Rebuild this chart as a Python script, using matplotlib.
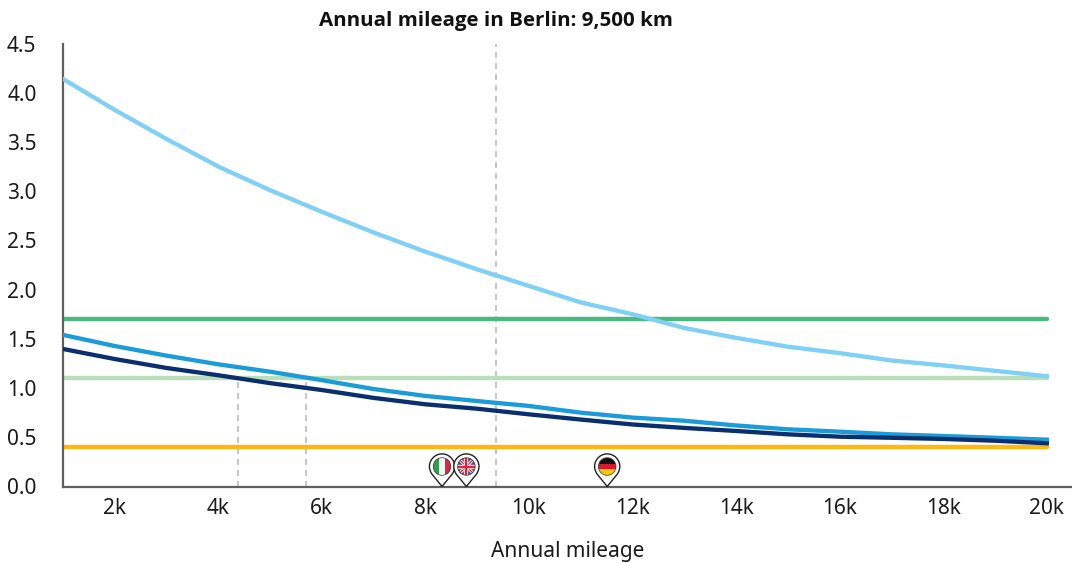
#!/usr/bin/env python3
"""Annual mileage chart with break-even curves and country pins."""

import matplotlib
matplotlib.use("Agg")
import matplotlib.pyplot as plt
from matplotlib.patches import Circle, PathPatch, Rectangle
from matplotlib.path import Path
from matplotlib.transforms import IdentityTransform, ScaledTranslation

plt.rcParams["font.family"] = ["Noto Sans", "DejaVu Sans"]

W, H = 1072, 563

mileage = list(range(1, 21))
light_blue = [4.14, 3.825, 3.53, 3.25, 3.01, 2.79, 2.58, 2.385, 2.206, 2.037,
              1.87, 1.75, 1.61, 1.51, 1.42, 1.355, 1.28, 1.23, 1.175, 1.12]
mid_blue = [1.54, 1.427, 1.329, 1.241, 1.166, 1.08, 0.99, 0.92, 0.868, 0.818,
            0.75, 0.70, 0.668, 0.62, 0.581, 0.557, 0.53, 0.513, 0.495, 0.476]
navy = [1.397, 1.295, 1.204, 1.13, 1.05, 0.98, 0.90, 0.835, 0.79, 0.733,
        0.68, 0.63, 0.595, 0.564, 0.53, 0.506, 0.495, 0.483, 0.465, 0.439]

flat_levels = [1.70, 1.10, 0.40]
flat_colors = ["#4cb782", "#b9dfb9", "#fdb813"]

guide_x = [4.375, 5.69, 9.36]
guide_top = [1.10, 1.10, 4.5]

pin_x = [8.32, 8.79, 11.51]
pin_flags = ["it", "uk", "de"]

x_ticks = list(range(2, 21, 2))
x_labels = [f"{v}k" for v in x_ticks]
y_ticks = [0.0, 0.5, 1.0, 1.5, 2.0, 2.5, 3.0, 3.5, 4.0, 4.5]


def draw_pin(ax, x, flag):
    # pin shapes are in pixels, anchored on the tip at (x, 0)
    tr = IdentityTransform() + ScaledTranslation(x, 0, ax.transData)
    cy, r, fr = 20.0, 12.6, 8.8
    k = 0.5523
    verts = [(0, 0), (-9.8, 12), (-11.5, 14.3), (-r, 17), (-r, cy),
             (-r, cy + k * r), (-k * r, cy + r), (0, cy + r),
             (k * r, cy + r), (r, cy + k * r), (r, cy),
             (r, 17), (11.5, 14.3), (9.8, 12), (0, 0)]
    codes = [Path.MOVETO, Path.LINETO] + [Path.CURVE4] * 12 + [Path.LINETO]
    ax.add_patch(PathPatch(Path(verts, codes), fc="white", ec="#222222", lw=1.0,
                           transform=tr, zorder=6, clip_on=False))
    clip = Circle((0, cy), fr, transform=tr)
    if flag == "it":
        bands = [(-fr, "#2f9e4f"), (-fr / 3, "#f4f4f4"), (fr / 3, "#d7263d")]
        for x0, c in bands:
            p = Rectangle((x0, cy - fr), 2 * fr / 3, 2 * fr, fc=c, lw=0, transform=tr, zorder=7)
            ax.add_patch(p)
            p.set_clip_path(clip)
    elif flag == "de":
        bands = [(fr / 3, "#111111"), (-fr / 3, "#d7192d"), (-fr, "#f7c600")]
        for y0, c in bands:
            p = Rectangle((-fr, cy + y0), 2 * fr, 2 * fr / 3, fc=c, lw=0, transform=tr, zorder=7)
            ax.add_patch(p)
            p.set_clip_path(clip)
    else:
        p = Rectangle((-fr, cy - fr), 2 * fr, 2 * fr, fc="#3b4f8f", lw=0, transform=tr, zorder=7)
        ax.add_patch(p)
        p.set_clip_path(clip)
        for (a, b, w, c) in [
            ((-fr, cy - fr), (fr, cy + fr), 3.0, "#f2f2f2"),
            ((-fr, cy + fr), (fr, cy - fr), 3.0, "#f2f2f2"),
            ((-fr, cy - fr), (fr, cy + fr), 1.2, "#d7263d"),
            ((-fr, cy + fr), (fr, cy - fr), 1.2, "#d7263d"),
            ((-fr, cy), (fr, cy), 4.4, "#f2f2f2"),
            ((0, cy - fr), (0, cy + fr), 4.4, "#f2f2f2"),
            ((-fr, cy), (fr, cy), 2.4, "#d7263d"),
            ((0, cy - fr), (0, cy + fr), 2.4, "#d7263d"),
        ]:
            ln, = ax.plot([a[0], b[0]], [a[1], b[1]], color=c, lw=w * 0.72,
                          transform=tr, zorder=8, solid_capstyle="butt")
            ln.set_clip_path(clip)
    ring = Circle((0, cy), fr, fc="none", ec="#333333", lw=0.5, transform=tr, zorder=9)
    ax.add_patch(ring)


def main():
    fig = plt.figure(figsize=(W / 100, H / 100), dpi=100)
    left, right, bottom, top = 63, 1072, 563 - 486.5, 563 - 43.5
    ax = fig.add_axes([left / W, bottom / H, (right - left) / W, (top - bottom) / H])

    x_per_k = 51.78
    ax.set_xlim(1.0, 1.0 + (right - left) / x_per_k)
    ax.set_ylim(0, 4.5)

    for x, y_top in zip(guide_x, guide_top):
        ax.plot([x, x], [0, y_top], color="#b8b8b2", lw=1.1, dashes=(4, 3.2), zorder=1)

    for level, color in zip(flat_levels, flat_colors):
        ax.plot([1, 20], [level, level], color=color, lw=3.2, solid_capstyle="round", zorder=2)

    ax.plot(mileage, light_blue, color="#7fd0f5", lw=3.1, zorder=3)
    ax.plot(mileage, mid_blue, color="#1b9cd8", lw=3.1, zorder=4)
    ax.plot(mileage, navy, color="#0a2f6e", lw=3.1, zorder=5)

    for x, flag in zip(pin_x, pin_flags):
        draw_pin(ax, x, flag)

    ax.set_xticks(x_ticks, x_labels)
    ax.set_yticks(y_ticks, [f"{v:.1f}" for v in y_ticks])
    ax.tick_params(length=0, labelsize=15, labelcolor="#1a1a1a")
    ax.tick_params(axis="x", pad=8.5)
    ax.tick_params(axis="y", pad=19)

    for side in ("top", "right"):
        ax.spines[side].set_visible(False)
    for side in ("left", "bottom"):
        ax.spines[side].set_color("#5f5f5f")
        ax.spines[side].set_linewidth(1.6)

    fig.text(496 / W, 1 - 21 / H, "Annual mileage in Berlin: 9,500 km", ha="center", va="center",
             fontsize=14.75, fontweight="bold", family=["Open Sans", "DejaVu Sans"], color="#111111")
    fig.text(568 / W, 1 - 551 / H, "Annual mileage", ha="center", va="center",
             fontsize=15, color="#1a1a1a")

    fig.savefig("out.png", dpi=100)


if __name__ == "__main__":
    main()
